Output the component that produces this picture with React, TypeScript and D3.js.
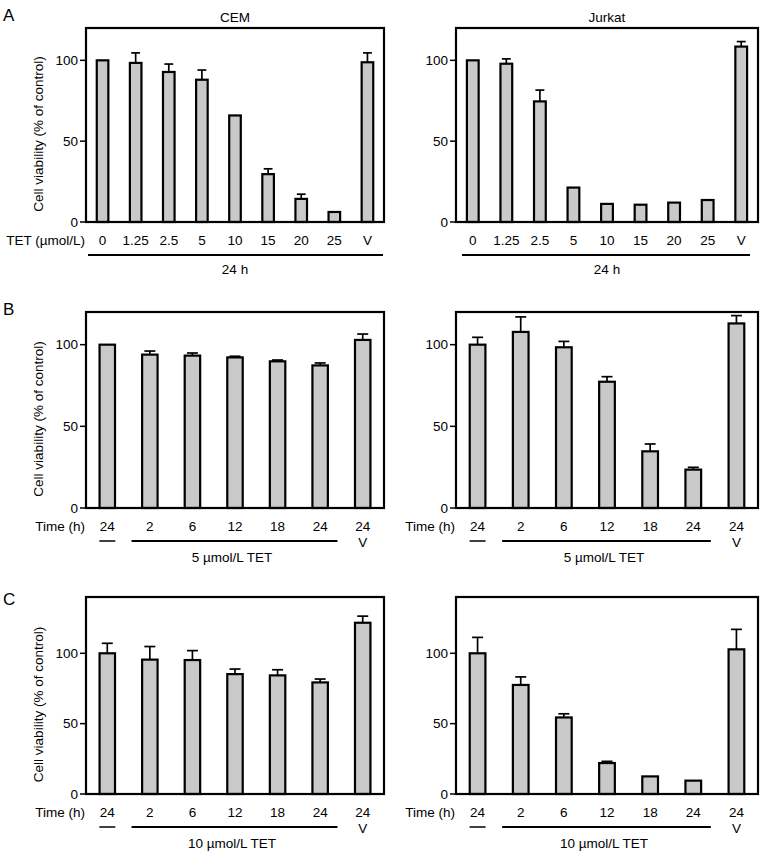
import React from "react";
import * as d3 from "d3";

// ---- data ----
const doseLabels = ["0", "1.25", "2.5", "5", "10", "15", "20", "25", "V"];
const cemDoseMean = [100, 98.4, 92.8, 88, 65.9, 29.6, 14.3, 6.2, 98.8];
const cemDoseErr = [0, 6.2, 4.9, 6, 0, 3.3, 2.9, 0, 5.8];
const jurkatDoseMean = [100, 97.9, 74.6, 21.3, 11.2, 10.7, 12, 13.6, 108.5];
const jurkatDoseErr = [0, 3, 7, 0, 0, 0, 0, 0, 3.1];

const timeLabels = ["24", "2", "6", "12", "18", "24", "24"];
const cem5Mean = [100, 93.9, 93.3, 92.2, 89.8, 87.3, 102.9];
const cem5Err = [0, 2.2, 1.6, 0.7, 0.8, 1.5, 3.6];
const jurkat5Mean = [100, 107.8, 98.4, 77.3, 34.7, 23.5, 113];
const jurkat5Err = [4.5, 9.2, 3.6, 3.1, 4.5, 1.4, 4.8];
const cem10Mean = [100, 95.5, 95.2, 85.2, 84.3, 79.3, 121.7];
const cem10Err = [7.1, 9.3, 6.7, 3.6, 4, 2.4, 4.7];
const jurkat10Mean = [100, 77.5, 54.4, 22, 12.5, 9.5, 102.8];
const jurkat10Err = [11.3, 5.7, 2.6, 1.2, 0, 0, 14.2];

const yTicks = [0, 50, 100];
const FONT = "'Liberation Sans', Arial, Helvetica, sans-serif";
const FS = 13.5;

type PanelProps = {
  x0: number; x1: number; y0: number; y1: number;
  yMax: number;
  labels: string[];
  mean: number[];
  err: number[];
  kind: "dose" | "time";
  showYLabel: boolean;
  title?: string;
  groupText: string;
};

function Panel(p: PanelProps) {
  const xs = d3.scaleBand<number>().domain(p.labels.map((_, i) => i)).range([p.x0, p.x1]).padding(0);
  const ys = d3.scaleLinear().domain([0, p.yMax]).range([p.y1, p.y0]);
  const bw = xs.bandwidth();
  const barW = bw * 0.41;
  const capW = Math.min(barW * 0.65, 11);
  const cx = (i: number) => (xs(i) as number) + bw / 2;
  const n = p.labels.length;
  const labelY = p.y1 + 18;
  const lineY = p.y1 + 33;
  const groupY = p.y1 + 48;
  return (
    <g>
      {p.title && (
        <text x={(p.x0 + p.x1) / 2} y={p.y0 - 6} textAnchor="middle" fontSize={FS} fontFamily={FONT}>
          {p.title}
        </text>
      )}
      {p.mean.map((v, i) => (
        <g key={i}>
          {p.err[i] > 0 && (
            <g stroke="#000" strokeWidth={1.7}>
              <line x1={cx(i)} x2={cx(i)} y1={ys(v)} y2={ys(v + p.err[i])} />
              <line x1={cx(i) - capW / 2} x2={cx(i) + capW / 2} y1={ys(v + p.err[i])} y2={ys(v + p.err[i])} />
            </g>
          )}
          <rect
            x={cx(i) - barW / 2 + 1}
            width={barW - 2}
            y={ys(v)}
            height={p.y1 - ys(v)}
            fill="#c9c9c9"
            stroke="#000"
            strokeWidth={2.2}
          />
        </g>
      ))}
      <rect x={p.x0} y={p.y0} width={p.x1 - p.x0} height={p.y1 - p.y0} fill="none" stroke="#000" strokeWidth={2.2} />
      {yTicks.map((t) => (
        <g key={t}>
          <line x1={p.x0 - 6} x2={p.x0} y1={ys(t)} y2={ys(t)} stroke="#000" strokeWidth={1.5} />
          <text x={p.x0 - 8} y={ys(t)} dy="0.35em" textAnchor="end" fontSize={FS} fontFamily={FONT}>
            {t}
          </text>
        </g>
      ))}
      {p.showYLabel && (
        <text
          transform={`translate(${p.x0 - 48},${(p.y0 + p.y1) / 2 + 9}) rotate(-90)`}
          textAnchor="middle"
          dy="0.35em"
          fontSize={FS}
          fontFamily={FONT}
        >
          Cell viability (% of control)
        </text>
      )}
      {p.labels.map((l, i) => (
        <text key={i} x={cx(i)} y={labelY} dy="0.35em" textAnchor="middle" fontSize={FS} fontFamily={FONT}>
          {l}
        </text>
      ))}
      {p.kind === "dose" ? (
        <g>
          {p.showYLabel && (
            <text x={p.x0 - 1} y={labelY} dy="0.35em" textAnchor="end" fontSize={FS} fontFamily={FONT}>
              TET (µmol/L)
            </text>
          )}
          <line x1={p.x0 + (p.showYLabel ? 2 : 6)} x2={p.x1 - (p.showYLabel ? 1 : 8)} y1={lineY} y2={lineY} stroke="#000" strokeWidth={2} />
          <text x={(p.x0 + p.x1) / 2} y={groupY - 1} dy="0.35em" textAnchor="middle" fontSize={FS} fontFamily={FONT}>
            24 h
          </text>
        </g>
      ) : (
        <g>
          <text x={p.x0 - 1} y={labelY} dy="0.35em" textAnchor="end" fontSize={FS} fontFamily={FONT}>
            Time (h)
          </text>
          <line x1={cx(0) - 8} x2={cx(0) + 8} y1={lineY} y2={lineY} stroke="#000" strokeWidth={1.5} />
          <line
            x1={(xs(1) as number) + 3}
            x2={(xs(n - 2) as number) + bw - 4}
            y1={lineY}
            y2={lineY}
            stroke="#000"
            strokeWidth={2}
          />
          <text x={cx(n - 1)} y={lineY + 1} dy="0.35em" textAnchor="middle" fontSize={FS} fontFamily={FONT}>
            V
          </text>
          <text
            x={((xs(1) as number) + (xs(n - 2) as number) + bw) / 2 - 3}
            y={groupY + 1}
            dy="0.35em"
            textAnchor="middle"
            fontSize={FS}
            fontFamily={FONT}
          >
            {p.groupText}
          </text>
        </g>
      )}
    </g>
  );
}

export default function App() {
  const L = [86, 384];
  const R = [456, 758];
  const A = [28, 222];
  const B = [312, 508];
  const C = [597, 794];
  return (
    <svg
      width={769}
      height={852}
      viewBox="0 0 769 852"
      style={{ position: "absolute", left: 0, top: 0, background: "#fff" }}
    >
      <rect width={769} height={852} fill="#fff" />
      <text x={3} y={21} fontSize={17} fontFamily={FONT}>A</text>
      <text x={3} y={315} fontSize={17} fontFamily={FONT}>B</text>
      <text x={3} y={605} fontSize={17} fontFamily={FONT}>C</text>

      <Panel x0={L[0]} x1={L[1]} y0={A[0]} y1={A[1]} yMax={120} labels={doseLabels} mean={cemDoseMean} err={cemDoseErr} kind="dose" showYLabel title="CEM" groupText="24 h" />
      <Panel x0={R[0]} x1={R[1]} y0={A[0]} y1={A[1]} yMax={120} labels={doseLabels} mean={jurkatDoseMean} err={jurkatDoseErr} kind="dose" showYLabel={false} title="Jurkat" groupText="24 h" />

      <Panel x0={L[0]} x1={L[1]} y0={B[0]} y1={B[1]} yMax={120} labels={timeLabels} mean={cem5Mean} err={cem5Err} kind="time" showYLabel groupText="5 µmol/L TET" />
      <Panel x0={R[0]} x1={R[1]} y0={B[0]} y1={B[1]} yMax={120} labels={timeLabels} mean={jurkat5Mean} err={jurkat5Err} kind="time" showYLabel={false} groupText="5 µmol/L TET" />

      <Panel x0={L[0]} x1={L[1]} y0={C[0]} y1={C[1]} yMax={140} labels={timeLabels} mean={cem10Mean} err={cem10Err} kind="time" showYLabel groupText="10 µmol/L TET" />
      <Panel x0={R[0]} x1={R[1]} y0={C[0]} y1={C[1]} yMax={140} labels={timeLabels} mean={jurkat10Mean} err={jurkat10Err} kind="time" showYLabel={false} groupText="10 µmol/L TET" />
    </svg>
  );
}
